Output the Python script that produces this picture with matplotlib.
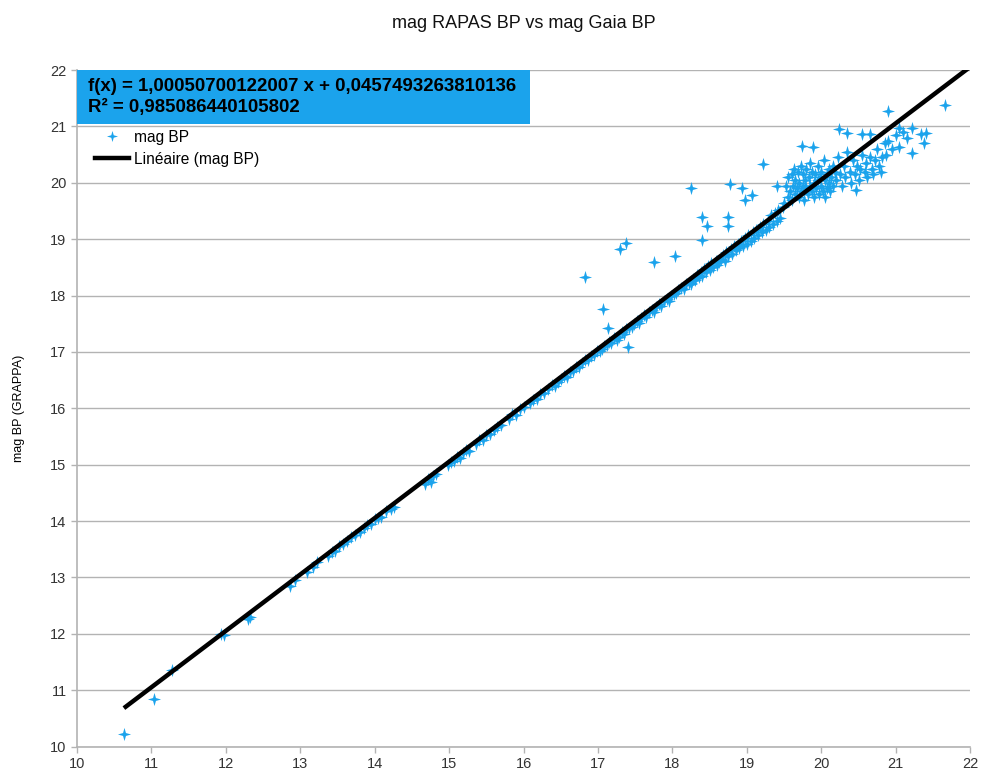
import numpy as np
import matplotlib.pyplot as plt
from matplotlib.path import Path
from matplotlib.patches import Rectangle
from matplotlib.lines import Line2D

plt.rcParams['font.family'] = ['Liberation Sans', 'DejaVu Sans']

# magnitudes (Gaia BP en x, GRAPPA BP en y)
gaia_bp = [
    10.63, 11.03, 11.27, 11.94, 11.97, 12.30, 12.33, 12.86, 12.93,
    13.09, 13.17, 13.23, 13.37, 13.42, 13.47, 13.52, 13.58, 13.63, 13.68, 13.74,
    13.80, 13.86, 13.90, 13.95, 14.00, 14.05, 14.08, 14.15, 14.22, 14.26,
    14.68, 14.72, 14.75, 14.78, 14.82,
    14.98, 15.03, 15.07, 15.10, 15.14, 15.18, 15.22, 15.26,
    15.36, 15.40, 15.45, 15.50, 15.55, 15.60, 15.64, 15.70,
    15.80, 15.85, 15.90, 15.95, 16.00,
    16.08, 16.12, 16.18, 16.22, 16.28, 16.33, 16.38, 16.42, 16.46,
    16.50, 16.54, 16.58, 16.62, 16.66, 16.70, 16.74, 16.78, 16.82, 16.86,
    16.90, 16.94, 16.98, 17.02,
    17.05, 17.08, 17.12, 17.15, 17.18, 17.22, 17.25, 17.28, 17.32, 17.35,
    17.38, 17.42, 17.45, 17.48, 17.52, 17.55, 17.58, 17.62, 17.65, 17.68,
    17.72, 17.75, 17.78, 17.82, 17.85, 17.88, 17.92, 17.95, 17.98, 18.02,
    18.05, 18.08, 18.12, 18.15, 18.18, 18.22, 18.25,
    18.25, 18.28, 18.30, 18.33, 18.35, 18.38, 18.40, 18.42, 18.45, 18.48,
    18.50, 18.52, 18.55, 18.58, 18.60, 18.62, 18.65, 18.68, 18.70, 18.72,
    18.75, 18.78, 18.80, 18.82, 18.85, 18.88, 18.90, 18.92, 18.95, 18.98,
    19.00, 19.02, 19.05, 19.08, 19.10, 19.12, 19.15, 19.18, 19.20, 19.22,
    19.25, 19.28, 19.30, 19.33, 19.35, 19.38, 19.40, 19.42, 19.45, 19.48,
    19.50, 19.52, 19.55, 19.55, 19.58, 19.60, 19.60, 19.62, 19.63, 19.65,
    19.65, 19.67, 19.68, 19.70, 19.70, 19.72, 19.73, 19.75, 19.75, 19.77,
    19.78, 19.80, 19.80, 19.82, 19.83, 19.85, 19.85, 19.87, 19.88, 19.90,
    19.90, 19.92, 19.93, 19.95, 19.95, 19.97, 19.98, 20.00, 20.00, 20.02,
    20.03, 20.05, 20.05, 20.07, 20.08, 20.10, 20.10, 20.12, 20.13, 20.15,
    20.15, 20.18, 20.20, 20.22, 20.25, 20.28, 20.30, 20.32, 20.35, 20.38,
    20.40, 20.42, 20.45, 20.48, 20.50, 20.52, 20.55, 20.58, 20.60, 20.62,
    20.65, 20.68, 20.70, 20.72, 20.75, 20.78, 20.80,
    20.82, 20.85, 20.90, 20.95, 21.00, 21.10,
    16.83, 17.29, 17.37, 17.06, 17.13, 17.40, 17.75, 18.03, 18.40, 18.40,
    18.47, 18.75, 18.75, 18.25, 18.77, 18.94, 18.97, 19.07, 19.21, 19.41,
    19.74, 19.89, 20.24, 20.35, 20.47, 20.55, 20.65, 20.90, 21.66, 21.05,
    21.22, 21.34, 21.40, 21.38, 21.15, 21.05, 21.22, 20.87,
]
grappa_bp = [
    10.23, 10.85, 11.35, 11.99, 11.97, 12.27, 12.30, 12.85, 12.95,
    13.10, 13.18, 13.27, 13.38, 13.45, 13.47, 13.55, 13.60, 13.64, 13.72, 13.75,
    13.80, 13.88, 13.93, 13.95, 14.03, 14.06, 14.08, 14.18, 14.22, 14.25,
    14.65, 14.74, 14.70, 14.80, 14.83,
    15.00, 15.05, 15.06, 15.14, 15.12, 15.20, 15.26, 15.25,
    15.36, 15.43, 15.44, 15.52, 15.55, 15.62, 15.66, 15.70,
    15.81, 15.90, 15.88, 15.98, 16.02,
    16.10, 16.14, 16.16, 16.25, 16.28, 16.35, 16.42, 16.40, 16.46,
    16.52, 16.57, 16.56, 16.65, 16.66, 16.74, 16.73, 16.80, 16.85, 16.86,
    16.93, 16.94, 17.01, 17.02,
    17.05, 17.10, 17.12, 17.17, 17.15, 17.25, 17.22, 17.27, 17.35, 17.32,
    17.40, 17.43, 17.44, 17.50, 17.55, 17.52, 17.60, 17.65, 17.62, 17.70,
    17.75, 17.71, 17.80, 17.85, 17.82, 17.90, 17.93, 17.91, 18.00, 18.03,
    18.05, 18.10, 18.14, 18.11, 18.20, 18.23, 18.20,
    18.22, 18.30, 18.27, 18.37, 18.33, 18.42, 18.35, 18.47, 18.42, 18.52,
    18.45, 18.57, 18.50, 18.62, 18.55, 18.60, 18.65, 18.72, 18.62, 18.77,
    18.70, 18.82, 18.74, 18.87, 18.80, 18.92, 18.84, 18.97, 18.88, 19.02,
    18.92, 19.07, 18.97, 19.12, 19.02, 19.17, 19.07, 19.22, 19.12, 19.27,
    19.17, 19.32, 19.22, 19.42, 19.27, 19.47, 19.32, 19.52, 19.37, 19.57,
    19.65, 19.95, 19.75, 20.10, 19.85, 19.70, 20.15, 19.95, 20.25, 19.80,
    20.05, 19.90, 20.20, 19.75, 20.00, 20.30, 19.85, 19.95, 20.15, 19.70,
    20.05, 19.90, 20.25, 19.80, 20.10, 19.95, 20.35, 19.85, 20.20, 20.00,
    19.75, 20.15, 19.90, 20.05, 20.30, 19.80, 20.10, 19.95, 20.20, 19.85,
    20.40, 20.05, 19.75, 20.15, 19.90, 20.25, 20.00, 19.85, 20.10, 20.30,
    19.95, 20.20, 20.05, 20.45, 20.15, 19.95, 20.30, 20.10, 20.55, 20.20,
    20.00, 20.40, 20.15, 20.30, 20.05, 20.25, 20.50, 20.20, 20.35, 20.10,
    20.45, 20.25, 20.15, 20.40, 20.60, 20.30, 20.20,
    20.45, 20.70, 20.75, 20.60, 20.85, 20.90,
    18.33, 18.83, 18.93, 17.77, 17.42, 17.08, 18.59, 18.70, 18.98, 19.39,
    19.23, 19.23, 19.39, 19.90, 19.97, 19.90, 19.69, 19.78, 20.33, 19.94,
    20.66, 20.63, 20.95, 20.88, 19.88, 20.87, 20.87, 21.28, 21.38, 20.98,
    20.98, 20.87, 20.88, 20.71, 20.79, 20.64, 20.52, 20.49,
]

pente = 1.00050700122007
ordonnee = 0.0457493263810136
r2 = 0.985086440105802

bleu = '#1ba3ec'

# marqueur étoile à 4 branches
k = 0.22
star = Path([(0, 1), (k, k), (1, 0), (k, -k), (0, -1), (-k, -k), (-1, 0), (-k, k), (0, 1)],
            [Path.MOVETO] + [Path.LINETO] * 7 + [Path.CLOSEPOLY])

fig = plt.figure(figsize=(9.81, 7.74), dpi=100)
ax = fig.add_axes([0.0785, 0.0355, 0.9105, 0.874])

ax.scatter(gaia_bp, grappa_bp, marker=star, s=90, color=bleu, linewidths=0, zorder=3)

xl = np.array([min(gaia_bp), 22])
ax.plot(xl, pente * xl + ordonnee, color='black', lw=3.2, zorder=4, solid_capstyle='butt')

ax.set_xlim(10, 22)
ax.set_ylim(10, 22)
ax.set_xticks(range(10, 23))
ax.set_yticks(range(10, 23))
ax.grid(axis='y', color='#b3b3b3', lw=1)
ax.set_axisbelow(True)
for s in ['top', 'right']:
    ax.spines[s].set_visible(False)
for s in ['left', 'bottom']:
    ax.spines[s].set_color('#b3b3b3')
    ax.spines[s].set_linewidth(1.2)
ax.tick_params(colors='#b3b3b3', labelcolor='#333333', labelsize=10.5, length=4, width=1)

ax.set_title('mag RAPAS BP vs mag Gaia BP', fontsize=13, pad=30, color='#111111')
ax.set_ylabel('mag BP (GRAPPA)', fontsize=9, labelpad=18)

# boîte de l'équation de régression
ax.add_patch(Rectangle((0, 0.92), 0.507, 0.08, transform=ax.transAxes,
                       facecolor=bleu, edgecolor='none', zorder=5))
ax.text(0.012, 0.96, f'f(x) = {pente:.14f} x + {ordonnee:.16f}\nR² = {r2:.15f}'.replace('.', ','),
        transform=ax.transAxes, fontsize=13.4, fontweight='bold', va='center', ha='left',
        linespacing=1.25, zorder=6)

handles = [Line2D([], [], marker=star, color=bleu, ls='none', markersize=8, markeredgewidth=0),
           Line2D([], [], color='black', lw=3.2)]
ax.legend(handles, ['mag BP', 'Linéaire (mag BP)'], loc='upper left',
          bbox_to_anchor=(0.008, 0.928), frameon=False, fontsize=11.2,
          handlelength=2.2, handletextpad=0.3, labelspacing=0.45, borderaxespad=0.3)

fig.savefig('out.png', dpi=100)
